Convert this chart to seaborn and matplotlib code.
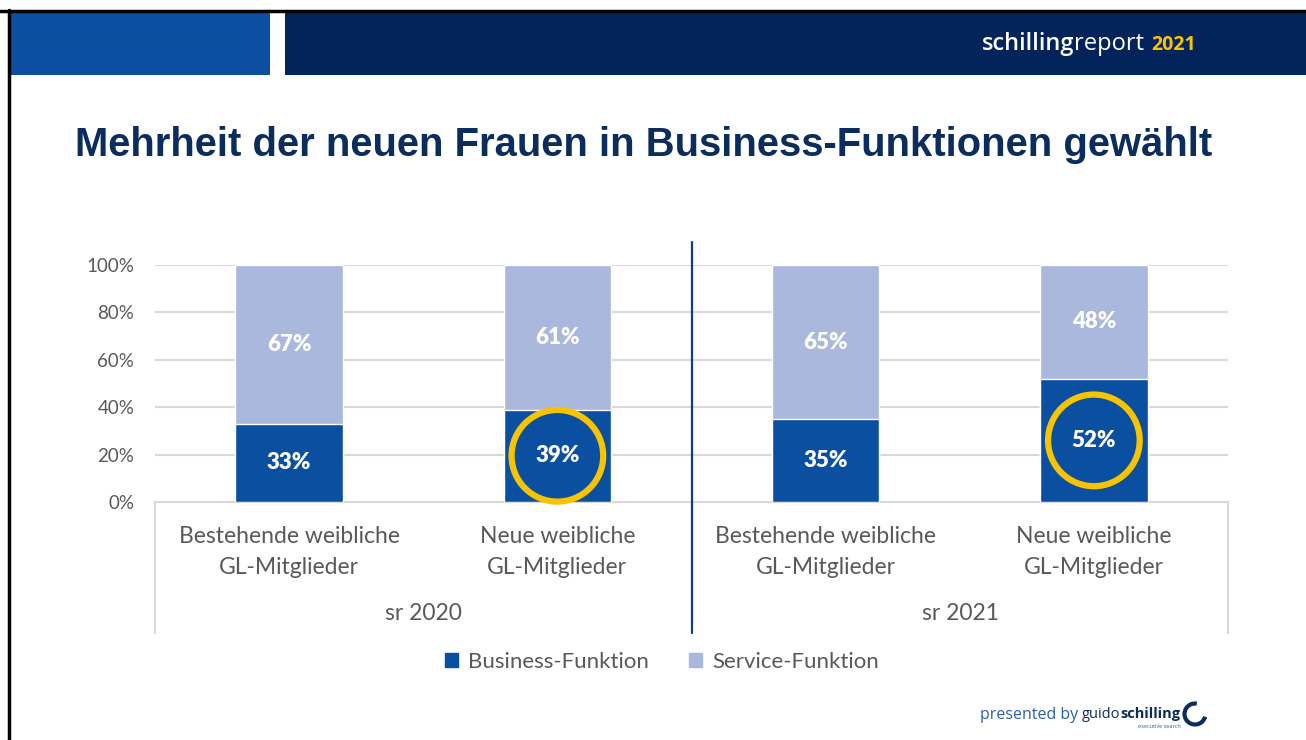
import numpy as np
import pandas as pd
import matplotlib
matplotlib.use('Agg')
import matplotlib.pyplot as plt
import matplotlib.patches as mpatches
from matplotlib.lines import Line2D
import seaborn as sns

# data
groups = ['sr 2020', 'sr 2020', 'sr 2021', 'sr 2021']
categories = ['Bestehende weibliche\nGL-Mitglieder', 'Neue weibliche\nGL-Mitglieder',
              'Bestehende weibliche\nGL-Mitglieder', 'Neue weibliche\nGL-Mitglieder']
business = [33, 39, 35, 52]
service = [67, 61, 65, 48]
highlight = [False, True, False, True]
group_names = ['sr 2020', 'sr 2021']
yticks = [0, 20, 40, 60, 80, 100]

BUS = '#0b4fa1'
SER = '#abb8dd'
NAVY = '#0b2d5e'
GRAY = '#595959'
GRID = '#d9d9d9'
GOLD = '#f8c400'

sns.set_theme(style='white')
plt.rcParams['font.family'] = ['Lato', 'DejaVu Sans']

W, H = 1306, 740
fig = plt.figure(figsize=(W / 100, H / 100), dpi=100)

def fx(px):
    return px / W

def fy(py):
    return 1 - py / H

# header
fig.add_artist(mpatches.Rectangle((fx(10), fy(75)), fx(260), 63 / H, color='#0c4fa0', lw=0))
fig.add_artist(mpatches.Rectangle((fx(285), fy(75)), fx(W - 285), 63 / H, color='#03245a', lw=0))
fig.add_artist(Line2D([0, 1], [fy(10.5), fy(10.5)], color='black', lw=2.5))
fig.add_artist(Line2D([fx(8.5), fx(8.5)], [0, fy(10)], color='black', lw=2.5))

# header brand text
t1 = fig.text(fx(982), fy(44), 'schilling', color='white', fontsize=17, fontweight='semibold',
              family=['Open Sans', 'DejaVu Sans'], va='center', ha='left')
fig.canvas.draw()
r = fig.canvas.get_renderer()
bb = t1.get_window_extent(r)
t2 = fig.text(bb.x1 / W, fy(44), 'report', color='white', fontsize=17,
              family=['Open Sans', 'DejaVu Sans'], va='center', ha='left')
bb2 = t2.get_window_extent(r)
fig.text(bb2.x1 / W + 0.005, fy(45), '2021', color=GOLD, fontsize=14, fontweight='bold',
         family=['Open Sans', 'DejaVu Sans'], va='center', ha='left')

# title
fig.text(fx(75), fy(145), 'Mehrheit der neuen Frauen in Business-Funktionen gewählt',
         color=NAVY, fontsize=28.8, fontweight='bold',
         family=['Liberation Sans', 'DejaVu Sans'], va='center', ha='left')

# chart
ax = fig.add_axes([fx(155), fy(502), fx(1228 - 155), (502 - 265) / H])
df = pd.DataFrame({'key': [f'{g}|{i}' for i, g in enumerate(groups)],
                   'business': business,
                   'total': [b + s for b, s in zip(business, service)]})
sns.barplot(data=df, x='key', y='total', color=SER, saturation=1, width=0.4, ax=ax, zorder=2)
sns.barplot(data=df, x='key', y='business', color=BUS, saturation=1, width=0.4, ax=ax, zorder=3)

ax.set_ylim(0, 100)
ax.set_xlim(-0.5, len(categories) - 0.5)
ax.set_yticks(yticks)
ax.set_yticklabels([f'{v}%' for v in yticks], color=GRAY, fontsize=13.5)
ax.yaxis.grid(True, color=GRID, lw=1.5, zorder=0)
ax.set_axisbelow(True)
ax.set_xlabel('')
ax.set_ylabel('')
ax.set_xticks(range(len(categories)))
ax.set_xticklabels(categories, color=GRAY, fontsize=16.5, linespacing=1.62)
ax.tick_params(axis='x', length=0, pad=17)
ax.tick_params(axis='y', length=0, pad=15)
for s in ['top', 'right', 'left']:
    ax.spines[s].set_visible(False)
ax.spines['bottom'].set_color(GRID)
ax.spines['bottom'].set_linewidth(1.5)

for i, (b, s) in enumerate(zip(business, service)):
    ax.text(i, b / 2, f'{b}%', color='white', fontsize=16, fontweight='heavy',
            ha='center', va='center', zorder=5)
    ax.text(i, b + s / 2, f'{s}%', color='white', fontsize=16, fontweight='heavy',
            ha='center', va='center', zorder=5)
    if highlight[i]:
        ax.scatter([i], [b / 2], s=66 ** 2, facecolors='none', edgecolors=GOLD,
                   linewidths=4.5, zorder=6, clip_on=False)

# group labels and separators
for k, g in enumerate(group_names):
    fig.text(fx(155 + (k + 0.5) * 537), fy(614), g, color=GRAY, fontsize=16.5,
             ha='center', va='center')
fig.add_artist(Line2D([fx(155), fx(155)], [fy(502), fy(633)], color=GRID, lw=1.5))
fig.add_artist(Line2D([fx(1228), fx(1228)], [fy(502), fy(633)], color=GRID, lw=1.5))
fig.add_artist(Line2D([fx(692), fx(692)], [fy(242), fy(633)], color='#123d82', lw=1.6))

# legend
handles = [mpatches.Patch(color=BUS, label='Business-Funktion'),
           mpatches.Patch(color=SER, label='Service-Funktion')]
leg = fig.legend(handles=handles, loc='center', bbox_to_anchor=(fx(662), fy(662)), ncol=2,
                 frameon=False, fontsize=16, handlelength=0.6, handleheight=0.6,
                 handletextpad=0.45, columnspacing=1.8)
for t in leg.get_texts():
    t.set_color(GRAY)

# footer
fig.text(fx(980), fy(719), 'presented by', color='#2f5fa8', fontsize=11.5,
         family=['Open Sans', 'DejaVu Sans'], va='baseline', ha='left')
g1 = fig.text(fx(1082), fy(718), 'guido', color=NAVY, fontsize=10.5,
              family=['Open Sans', 'DejaVu Sans'], va='baseline', ha='left')
bg = g1.get_window_extent(r)
g2 = fig.text(bg.x1 / W, fy(718), 'schilling', color=NAVY, fontsize=10.5, fontweight='bold',
              family=['Open Sans', 'DejaVu Sans'], va='baseline', ha='left')
bg2 = g2.get_window_extent(r)
fig.text(bg2.x1 / W, fy(726), 'executive search', color='#2f5fa8', fontsize=4,
         family=['Open Sans', 'DejaVu Sans'], va='center', ha='right')
arc = mpatches.Arc((1195 / 100, (H - 714) / 100), 0.21, 0.21, theta1=80, theta2=345,
                   color=NAVY, lw=3, transform=fig.dpi_scale_trans)
fig.add_artist(arc)

fig.savefig('out.png', dpi=100)
